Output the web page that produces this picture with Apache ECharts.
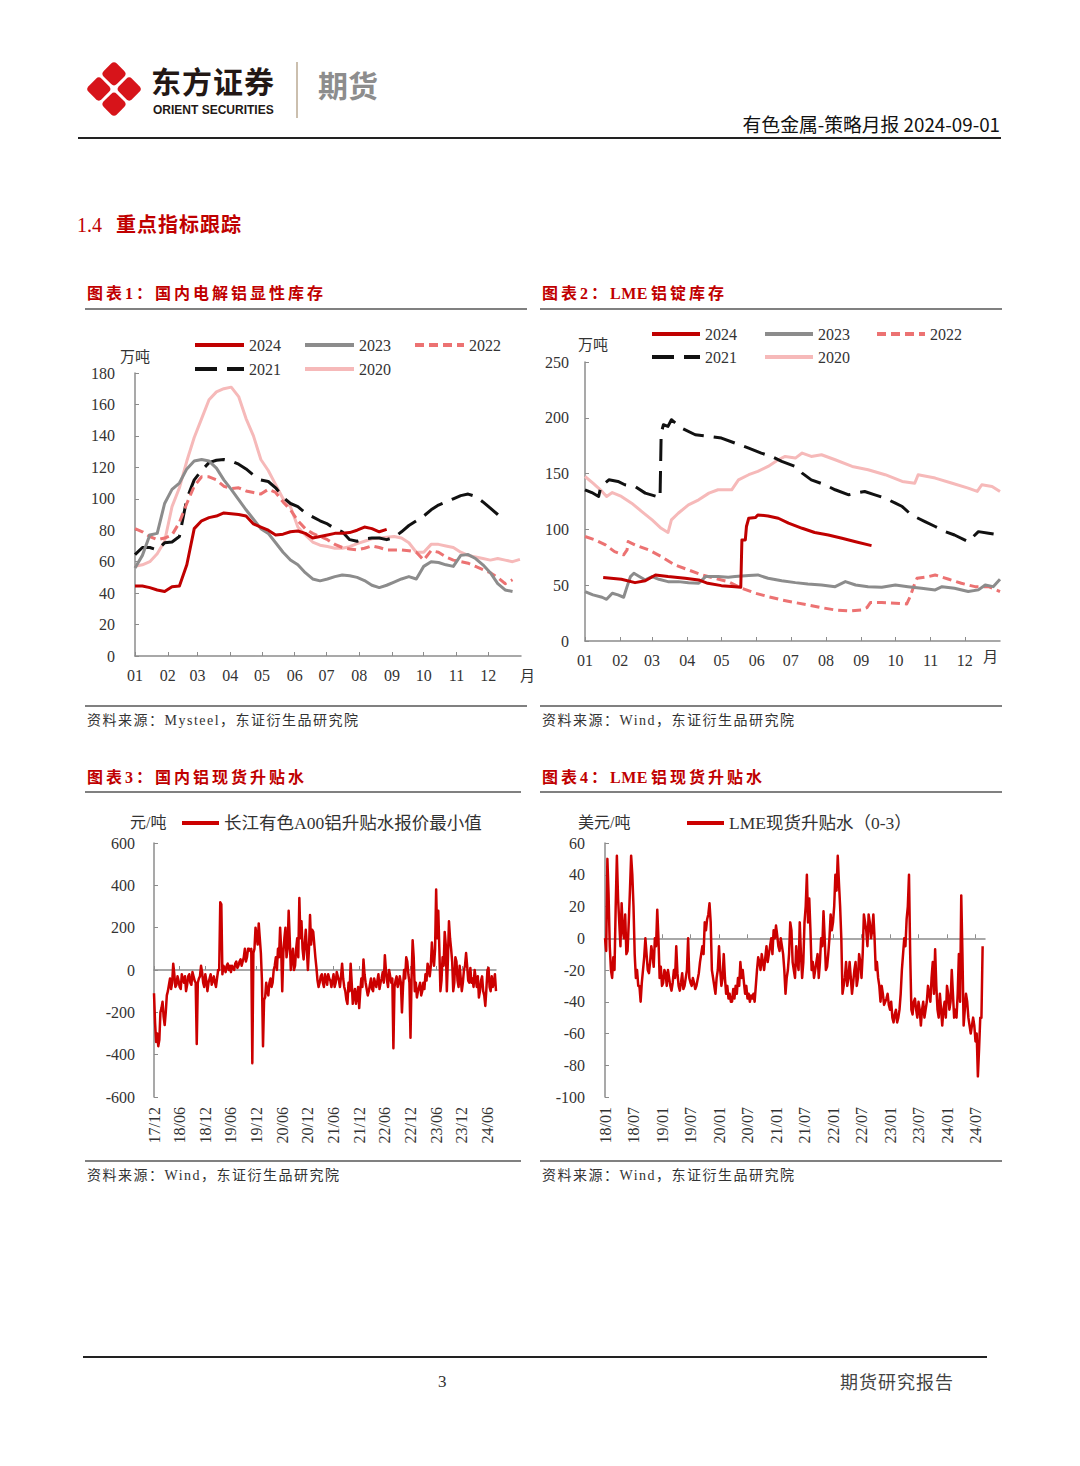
<!DOCTYPE html>
<html><head><meta charset="utf-8">
<script src="https://cdn.jsdelivr.net/npm/echarts@6/dist/echarts.min.js"></script>
<style>
html,body{margin:0;padding:0;background:#fff;}
#page{position:relative;width:1080px;height:1466px;overflow:hidden;background:#fff;}
#chart{position:absolute;left:0;top:0;width:1080px;height:1466px;z-index:1;}
.t{position:absolute;white-space:nowrap;z-index:2;font-family:"Liberation Serif","Noto Sans CJK SC",serif;}
.ln{position:absolute;z-index:2;}
.ttl{font-family:"Liberation Serif","Noto Sans CJK SC",serif;font-weight:bold;font-size:16px;line-height:20px;letter-spacing:3px;color:#c00000;}
.ttl .lat{letter-spacing:0.5px;margin-right:3px;}
.src{font-size:14px;line-height:18px;letter-spacing:1.5px;color:#333;}
</style></head><body>
<div id="page">
<div id="chart"></div>

<svg class="t" style="left:84px;top:57px" width="60" height="64" viewBox="0 0 60 64">
 <g transform="translate(30,32) rotate(45)">
  <rect x="-20" y="-20" width="18.5" height="18.5" rx="4" fill="#d7141a"/>
  <rect x="1.5" y="-20" width="18.5" height="18.5" rx="4" fill="#d7141a"/>
  <rect x="-20" y="1.5" width="18.5" height="18.5" rx="4" fill="#d7141a"/>
  <rect x="1.5" y="1.5" width="18.5" height="18.5" rx="4" fill="#d7141a"/>
 </g>
</svg>
<div class="t" style="left:151px;top:65px;font-family:'Noto Sans CJK SC';font-weight:bold;font-size:30px;line-height:30px;letter-spacing:1px;color:#231815;">东方证券</div>
<div class="t" style="left:153px;top:103px;font-family:'Liberation Sans';font-weight:bold;font-size:12px;line-height:14px;color:#231815;">ORIENT SECURITIES</div>
<div class="ln" style="left:296px;top:62px;width:2px;height:56px;background:#cbbfae;"></div>
<div class="t" style="left:318px;top:67px;font-family:'Noto Sans CJK SC';font-weight:bold;font-size:30px;line-height:34px;color:#8d8d8d;">期货</div>
<div class="t" style="right:80px;top:111px;font-family:'Noto Sans CJK SC';font-size:18.8px;line-height:25px;color:#111;">有色金属-策略月报 2024-09-01</div>
<div class="ln" style="left:78px;top:137px;width:923px;height:1.5px;background:#222;"></div>

<div class="t" style="left:77px;top:212px;font-size:20px;line-height:24px;color:#c00000;">1.4<span style="margin-left:14px;font-family:'Noto Sans CJK SC';font-weight:bold;letter-spacing:1px;">重点指标跟踪</span></div>

<div class="t ttl" style="left:87px;top:284px;">图表1：国内电解铝显性库存</div>
<div class="t ttl" style="left:542px;top:284px;">图表2：<span class="lat">LME</span>铝锭库存</div>
<div class="ln" style="left:85px;top:308px;width:442px;height:2px;background:#808080;"></div>
<div class="ln" style="left:540px;top:308px;width:462px;height:2px;background:#808080;"></div>

<div class="ln" style="left:85px;top:705px;width:442px;height:1.5px;background:#808080;"></div>
<div class="ln" style="left:540px;top:705px;width:462px;height:1.5px;background:#808080;"></div>
<div class="t src" style="left:87px;top:712px;">资料来源：Mysteel，东证衍生品研究院</div>
<div class="t src" style="left:542px;top:712px;">资料来源：Wind，东证衍生品研究院</div>

<div class="t ttl" style="left:87px;top:768px;">图表3：国内铝现货升贴水</div>
<div class="t ttl" style="left:542px;top:768px;">图表4：<span class="lat">LME</span>铝现货升贴水</div>
<div class="ln" style="left:85px;top:791px;width:436px;height:2px;background:#808080;"></div>
<div class="ln" style="left:540px;top:791px;width:462px;height:2px;background:#808080;"></div>

<div class="ln" style="left:85px;top:1160px;width:436px;height:1.5px;background:#808080;"></div>
<div class="ln" style="left:540px;top:1160px;width:462px;height:1.5px;background:#808080;"></div>
<div class="t src" style="left:87px;top:1167px;">资料来源：Wind，东证衍生品研究院</div>
<div class="t src" style="left:542px;top:1167px;">资料来源：Wind，东证衍生品研究院</div>

<div class="ln" style="left:83px;top:1356px;width:904px;height:1.5px;background:#222;"></div>
<div class="t" style="left:438px;top:1371px;font-size:17px;line-height:22px;color:#333;">3</div>
<div class="t" style="left:840px;top:1370px;font-family:'Noto Sans CJK SC';font-size:18px;line-height:22px;letter-spacing:1px;color:#444;">期货研究报告</div>
</div>

<script>
// ---------- shared scale labels ----------
const monthLabels = ['01','02','03','04','05','06','07','08','09','10','11','12'];
const monthStartDays = [0,31,59,90,120,151,181,212,243,273,304,334];
const cnTickLabels = ['17/12','18/06','18/12','19/06','19/12','20/06','20/12','21/06','21/12','22/06','22/12','23/06','23/12','24/06'];
const lmeTickLabels = ['18/01','18/07','19/01','19/07','20/01','20/07','21/01','21/07','22/01','22/07','23/01','23/07','24/01','24/07'];
const years = ['2024','2023','2022','2021','2020'];

// ---------- chart 1: domestic visible inventory (万吨), weekly from Jan 1 ----------
const inv2024 = [44.5,44.5,43.5,42,41,44,44.5,58,81,86,88,89,91,90.5,90,89,84,82,80,77,77.5,79,79.5,78,75,76,77,78,78,78.5,80,82,81,79,80.5];
const inv2023 = [56,64,77,78,97,106,110,119,124,125,124,119.5,112,106,99.5,93,87,81,78,72,66,61,58,53,49,47.8,49,50.5,51.5,51,50,48,45,43.5,45,47,49,50.5,49,57,60,59.5,58,57,64,64.5,62,58,53,46,42,41];
const inv2022 = [81,79,76,74,75,77,85,97,108,114,114,112,108,106.5,107,105,104,103,106,104,98,93,86,81,78,76,74,71,69,68,67.5,68.5,70,69,67.5,67.5,67.5,67,66,61,67,66,63,61,60,59,57,55,53,50,46,48.5];
const inv2021 = [64.5,69,69,67.5,72,72.5,76,100,112,118,123,124.5,125,124,122,119,115,112,111,107,101,97,95,91,88.5,86,84,81,79,74,73,74.5,75,75,74,75.5,79,83,86,89,93,96,98,100,102,103,101.5,98,94,90,86];
const inv2020 = [57,58,60,65,73,95,107,124,139,151,163,168,170,171,165,151,140,125,118,109,100,95,82,77,72.5,70.5,69.6,68.5,68.5,69.5,71.5,73,74.5,75,75.5,76,75,72,66,66,71,71,70,69,66,64,63,62,61,62,61,60,61.5];

// ---------- chart 2: LME aluminium stocks (万吨), day-of-year / value ----------
const lme2024Days = [16,32,44,53,62,73,88,100,108,120,132,137,138,141,142,144,150,152,161,170,179,191,202,214,226,238,252];
const lme2024 = [56.8,55.3,52.3,54,59.2,57.7,56.2,54.7,51.7,49.6,48.7,48.1,90.6,90.6,102.6,110,110.6,113,112,110,105.6,101,97.2,95,92,89,85.5];
const lme2023Days = [0,7,15,19,24,29,34,37,40,43,47,53,59,65,73,82,91,100,106,117,126,132,144,152,161,173,185,196,208,220,229,238,249,261,273,284,296,308,314,325,337,346,352,359,365];
const lme2023 = [44.3,41.3,39.2,37.4,42.8,41.3,39.2,48.7,57.7,60.7,58.3,54.7,57.7,55.3,53.2,53.2,52.3,51.7,57.7,57.7,57.1,57.7,58.6,59.2,56.2,54,52.3,51.1,50.2,48.7,53.2,50.2,48.7,48.1,50.2,48.7,47.2,45.8,48.7,47.2,44.3,45.8,50.2,48.7,55.3];
const lme2022Days = [0,9,18,26,34,37,38,44,56,67,79,91,103,114,126,138,150,161,173,185,196,208,220,232,243,248,251,261,273,283,286,289,292,302,308,320,331,343,355,365];
const lme2022 = [93.6,90.6,86.1,80.1,77.2,81.6,89.1,86.1,81.6,75.7,68.2,63.7,59.2,56.2,53.2,47.2,42.8,39.8,36.8,34.4,32.3,29.9,27.8,26.9,27.8,29.9,34.4,34.4,33.8,33.2,39.8,48.7,56.2,57.7,59.2,55.3,51.7,48.7,48.7,44.3];
const lme2021Days = [0,6,12,14,21,29,35,44,53,63,66,67,69,73,76,85,97,109,120,132,144,155,164,173,185,191,199,211,220,232,238,246,255,264,273,279,287,299,308,317,325,337,346,355,365];
const lme2021 = [135.5,133,129.5,138.5,144.4,143,140,138.5,132.5,129.5,128,186.3,193.8,192.3,198.3,190.8,184.8,183.3,181.8,177.3,172.8,168.4,165.4,160.9,156.4,150.4,144.4,140,135.5,131,132.5,134,131,128,123.5,120.5,113,107,102.6,98,95,89.1,98,96.6,95];
const lme2020Days = [0,7,15,19,24,32,41,50,59,67,73,76,82,91,100,109,117,129,135,144,152,161,170,176,185,191,199,208,220,235,249,264,279,290,293,308,323,337,345,349,358,365];
const lme2020 = [147.4,141.4,134,129.5,133,129.5,123.5,116,108.5,101,97.2,108.5,114.5,122,126.5,132.5,135.5,135.5,144.4,149,152,156.4,162.4,165.4,163.9,168.4,165.4,166.9,162.4,156.4,153.4,149,143,141.4,149,146,141.4,137,134,140,138.5,134];

// ---------- chart 3: Changjiang A00 spread (元/吨), quarter-month steps from 2017/12 ----------
const spotCN = [
 -110,-250, -340,-300, -360,-330, -200,-180, -150,-220, -260,-200, -120,-100, -70,-40, -90,-60, 30,-20,
 -80,-70, -30,-50, -80,-90, -20,-40, -60,-30, -100,-70, -30,-20, -60,-70, -10,-30, -50,-60,
 -350,-60, -40,-30, 20,-10, -60,-80, -20,-50, -100,-60, -40,-20, -70,-50, -30,-60, -80,-40,
 0,0, 320,310, -20,20, 10,-10, 20,30, 0,20, -10,20, 10,0, 30,40, 10,20,
 40,50, 20,40, 60,100, 40,60, 100,100, 90,100, -440,80, 100,200, 160,120, 220,150,
 80,-50, -360,-140, -130,-60, -100,-120, -60,-40, -80,-60, 0,20, 60,0, 100,60, 200,100,
 -100,80, 150,200, 60,100, 280,150, 0,60, 100,0, 20,100, 150,60, 340,150, 230,100,
 50,120, 190,100, 0,100, 260,120, 190,180, 120,60, 10,-50, -80,-60, -30,-20, -60,-80,
 -20,-40, -70,-20, -40,-50, -80,-50, -20,-80, -60,-10, -30,-50, -80,-30, 30,-40, -80,-100,
 -140,-160, -60,-100, 30,-60, -160,-120, -90,-160, -120,-80, -180,-100, -40,-80, 50,-20, -60,-90,
 -120,-100, -70,-40, -90,-100, -40,-60, -80,-50, -20,-90, -60,-40, -10,-60, 70,0, -50,-80,
 0,-30, -60,-40, -370,-80, -50,-30, -80,-60, -30,-60, -200,-80, 0,-40, 60,40, -20,-60,
 -320,-40, 140,60, -100,-60, -130,-100, -80,-60, -120,-100, -60,-90, -20,-50, 30,10, -30,20,
 130,60, 20,100, 380,150, 280,100, -100,-50, 60,20, 180,120, -100,50, 230,150, 100,40,
 -100,-60, 60,40, -50,-80, 20,-40, -100,-60, 0,20, 80,20, -50,-60, 10,-60, -40,-80,
 0,-40, -80,-30, -130,-100, -50,-30, -100,-120, -170,-90, 0,10, -80,-100, -30,-80, -60,-20,
 -100
];

// ---------- chart 4: LME cash-3M (美元/吨), quarter-month steps from 2018/01 ----------
const spotLME = [
 0,-8, 50,28, -5,-20, -25,-12, -20,20, 52,25, 10,-5, 22,5, 0,15, -10,-8,
 10,30, 52,40, 20,-10, -25,-20, -30,-30, -40,-28, -20,-12, 0,-10, -20,-22, -15,-5,
 -10,-18, 0,-5, 18,0, -25,-18, -30,-28, -20,-22, -30,-20, -25,-30, -33,-28, -20,-25,
 -5,-22, -30,-33, -28,-22, -32,-30, -25,-20, 0,-25, -28,-30, -25,-28, -32,-30, -26,-22,
 -15,-10, -5,-10, 10,5, 12,15, 22,10, -20,-25, -30,-35, -25,-20, -5,-20, -30,-25,
 -10,-25, -35,-30, -38,-35, -40,-40, -32,-38, -30,-35, -25,-30, -15,-25, -20,-28, -35,-30,
 -38,-35, -40,-36, -38,-35, -40,-30, -20,-12, -15,-20, -10,-15, -20,-12, -5,-15, -10,-5,
 0,-10, 5,0, 8,2, -5,-8, 0,-5, -10,-20, -35,-25, -20,-10, 10,5, -15,-20,
 -25,-5, -15,-20, 10,-10, -25,-15, 10,20, 40,10, 25,5, -20,-15, -25,-20, -15,-10,
 -25,-15, 0,-5, 17,0, -20,-18, -10,0, 15,5, 10,20, 40,30, 52,35, 20,0,
 -35,-30, -25,-15, -30,-25, -15,-25, -35,-28, -20,-15, -30,-25, -10,-15, -25,-10, 15,10,
 5,-5, 15,10, 0,5, 15,0, -20,-15, -25,-30, -40,-30, -35,-42, -40,-38, -35,-42,
 -45,-40, -50,-53, -48,-45, -53,-50, -45,-35, -20,-10, 0,-5, 12,20, 40,-10, -45,-48,
 -40,-38, -45,-50, -40,-45, -55,-45, -40,-50, -45,-40, -30,-35, -40,-25, -15,-35, -7,-30,
 -45,-50, -35,-45, -55,-45, -40,-50, -30,-35, -45,-40, -20,-35, -50,-45, -50,-35, -10,-40,
 27,-10, -55,-45, -35,-40, -50,-55, -60,-55, -50,-55, -65,-60, -87,-70, -50,-50, -5
];

// ---------- styles ----------
const SERIF = '"Liberation Serif","Noto Sans CJK SC",serif';
const CJK = '"Noto Sans CJK SC",sans-serif';
const AX = '#8c8c8c';
const LBL = '#333';
const yearStyle = {
  '2024': {color:'#c00000', type:'solid', width:3},
  '2023': {color:'#8c8c8c', type:'solid', width:3},
  '2022': {color:'#ec7272', type:[9,5], width:3},
  '2021': {color:'#111111', type:[22,10], width:3},
  '2020': {color:'#f6b9b9', type:'solid', width:3}
};

function yAx(grid, min, max, interval, margin) {
  return {type:'value', gridIndex:grid, min:min, max:max, interval:interval,
    axisLine:{show:true, onZero:false, lineStyle:{color:AX, width:1.5}},
    axisTick:{show:true, inside:true, length:4, lineStyle:{color:AX, width:1}},
    axisLabel:{margin:margin, color:LBL, fontFamily:SERIF, fontSize:16},
    splitLine:{show:false}};
}
function monthAx(grid) {
  return {type:'value', gridIndex:grid, min:0, max:365, position:'bottom',
    axisLine:{show:true, onZero:false, lineStyle:{color:AX, width:1.5}},
    axisTick:{show:true, inside:true, length:4, customValues:monthStartDays, lineStyle:{color:AX}},
    axisLabel:{customValues:monthStartDays, margin:11, color:LBL, fontFamily:SERIF, fontSize:16,
      formatter:function(v){ const k = monthStartDays.indexOf(v); return k>=0 ? monthLabels[k] : ''; }},
    splitLine:{show:false}};
}
function timeLabelAx(grid, labels) {
  const vals = labels.map(function(_, i){ return i*6; });
  return {type:'value', gridIndex:grid, min:0, max:80, position:'bottom',
    axisLine:{show:false, onZero:false}, axisTick:{show:false},
    axisLabel:{customValues:vals, rotate:90, margin:10, color:LBL, fontFamily:SERIF, fontSize:16,
      formatter:function(v){ return labels[Math.round(v/6)] || ''; }},
    splitLine:{show:false}};
}
function zeroAx(grid, labels) {
  const vals = labels.map(function(_, i){ return i*6; });
  return {type:'value', gridIndex:grid, min:0, max:80, position:'bottom',
    axisLine:{show:true, onZero:true, lineStyle:{color:AX, width:1.5}},
    axisTick:{show:true, inside:true, length:4, customValues:vals, lineStyle:{color:AX}},
    axisLabel:{show:false}, splitLine:{show:false}};
}
function lineSeries(name, xi, yi, data, st, z) {
  return {type:'line', name:name, xAxisIndex:xi, yAxisIndex:yi, data:data,
    symbol:'none', showSymbol:false, silent:true, animation:false, z:z,
    lineStyle:{color:st.color, type:st.type, width:st.width, cap:'butt', join:'round'},
    itemStyle:{color:st.color}};
}
function legendItem(name, left, centerY, w) {
  return {data:[name], left:left, top:centerY-9, padding:0, itemWidth:w, itemHeight:18,
    selectedMode:false,
    itemStyle:{color:'transparent', borderWidth:0, opacity:0},
    lineStyle:{width:4},
    textStyle:{fontFamily:SERIF, fontSize:16, color:LBL, lineHeight:18}};
}

const weekly = function(arr){ return arr.map(function(v,i){ return [i*7, v]; }); };
const paired = function(days, vals){ return vals.map(function(v,i){ return [days[i], v]; }); };
const quarterMonth = function(arr){ return arr.map(function(v,i){ return [i*0.25, v]; }); };

const inv = {'2024':inv2024,'2023':inv2023,'2022':inv2022,'2021':inv2021,'2020':inv2020};
const lme = {'2024':[lme2024Days,lme2024],'2023':[lme2023Days,lme2023],'2022':[lme2022Days,lme2022],
             '2021':[lme2021Days,lme2021],'2020':[lme2020Days,lme2020]};
const drawOrder = ['2020','2021','2022','2023','2024'];

const series = [];
drawOrder.forEach(function(y, k){ series.push(lineSeries(y, 0, 0, weekly(inv[y]), yearStyle[y], 2+k)); });
drawOrder.forEach(function(y, k){ series.push(lineSeries(y, 1, 1, paired(lme[y][0], lme[y][1]), yearStyle[y], 2+k)); });
series.push(lineSeries('长江有色A00铝升贴水报价最小值', 2, 2, quarterMonth(spotCN), {color:'#cc0000', type:'solid', width:2.5}, 3));
series.push(lineSeries('LME现货升贴水（0-3）', 4, 3, quarterMonth(spotLME), {color:'#cc0000', type:'solid', width:2.5}, 3));

const legends = [
  legendItem('2024', 193, 345, 49), legendItem('2023', 303, 345, 49), legendItem('2022', 413, 345, 49),
  legendItem('2021', 193, 369, 49), legendItem('2020', 303, 369, 49),
  legendItem('2024', 650, 334, 48), legendItem('2023', 763, 334, 48), legendItem('2022', 875, 334, 48),
  legendItem('2021', 650, 357, 48), legendItem('2020', 763, 357, 48)
];
const lg3 = legendItem('长江有色A00铝升贴水报价最小值', 180, 823, 37); lg3.textStyle.fontSize = 17.5;
const lg4 = legendItem('LME现货升贴水（0-3）', 685, 823, 37); lg4.textStyle.fontSize = 17.5;
legends.push(lg3, lg4);

function unitText(txt, x, cy) {
  return {type:'text', left:x, top:cy-9, silent:true,
    style:{text:txt, fill:LBL, font:'15px ' + CJK}};
}

const option = {
  animation:false,
  backgroundColor:'transparent',
  grid:[
    {left:135, top:373, width:386, height:283, containLabel:false},
    {left:585, top:362, width:415, height:279, containLabel:false},
    {left:154, top:843, width:342, height:254, containLabel:false},
    {left:605, top:843, width:380, height:254, containLabel:false}
  ],
  xAxis:[monthAx(0), monthAx(1), timeLabelAx(2, cnTickLabels), zeroAx(2, cnTickLabels), timeLabelAx(3, lmeTickLabels), zeroAx(3, lmeTickLabels)],
  yAxis:[yAx(0,0,180,20,20), yAx(1,0,250,50,16), yAx(2,-600,600,200,19), yAx(3,-100,60,20,20)],
  legend:legends,
  graphic:[
    unitText('万吨', 120, 357), unitText('月', 520, 676),
    unitText('万吨', 578, 345), unitText('月', 983, 657),
    {type:'text', left:130, top:814, silent:true, style:{text:'元/吨', fill:LBL, font:'16px ' + SERIF}},
    {type:'text', left:578, top:814, silent:true, style:{text:'美元/吨', fill:LBL, font:'16px ' + SERIF}}
  ],
  series:series
};

const chart = echarts.init(document.getElementById('chart'), null, {renderer:'svg', width:1080, height:1466});
chart.setOption(option);
</script>
</body></html>
